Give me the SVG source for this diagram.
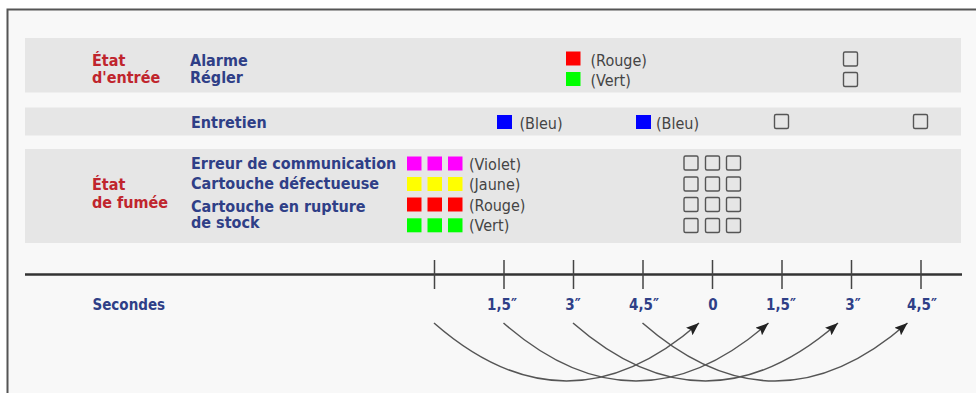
<svg xmlns="http://www.w3.org/2000/svg" width="976" height="393" viewBox="0 0 976 393">
<style>
.t{font-family:"DejaVu Sans Condensed","DejaVu Sans",sans-serif;font-stretch:condensed;font-size:16px}
.lab{font-weight:bold;fill:#2f3f87}
.cat{font-weight:bold;fill:#c0252d}
.col{fill:#444}
.ax{font-weight:bold;fill:#2f3f87;font-size:15px;text-anchor:middle}
.band{fill:#e6e6e6}
.box{fill:none;stroke:#555;stroke-width:1.4}
.tick{stroke:#444;stroke-width:1.5}
.arc{fill:none;stroke:#555;stroke-width:1.5}
</style>
<defs>
<marker id="ah" viewBox="0 0 13 10" refX="13" refY="5" markerWidth="13" markerHeight="10" markerUnits="userSpaceOnUse" orient="auto">
<path d="M0,0 L13,5 L0,10 L2.5,5 z" fill="#222"/>
</marker>
</defs>
<rect x="0" y="0" width="976" height="393" fill="#ffffff"/>
<rect x="7.5" y="9.5" width="970" height="385" fill="#f8f8f8"/>
<path d="M7.5,393 L7.5,9.5 L976,9.5" fill="none" stroke="#555" stroke-width="2"/>

<g id="etat-entree">
<rect class="band" x="25" y="38" width="936" height="54.5"/>
<text class="t cat" x="92" y="66">État</text>
<text class="t cat" x="92" y="82.7">d'entrée</text>
<text class="t lab" x="190" y="66">Alarme</text>
<text class="t lab" x="190" y="82.7">Régler</text>
<rect x="566" y="51.5" width="14.5" height="14" fill="#ff0000"/>
<text class="t col" x="590.5" y="65.5">(Rouge)</text>
<rect x="566" y="72" width="14.5" height="14" fill="#00ff00"/>
<text class="t col" x="590.5" y="86">(Vert)</text>
<rect class="box" x="843.5" y="52" width="14" height="14" rx="1.5"/>
<rect class="box" x="843.5" y="72.5" width="14" height="14" rx="1.5"/>
</g>

<g id="entretien">
<rect class="band" x="25" y="107.5" width="936" height="28"/>
<text class="t lab" x="191" y="128.3">Entretien</text>
<rect x="497" y="115" width="15" height="14" fill="#0000ff"/>
<text class="t col" x="519.5" y="128.5">(Bleu)</text>
<rect x="636" y="115" width="15" height="14" fill="#0000ff"/>
<text class="t col" x="656" y="128.5">(Bleu)</text>
<rect class="box" x="774.5" y="114.5" width="14" height="14" rx="1.5"/>
<rect class="box" x="913.5" y="114.5" width="14" height="14" rx="1.5"/>
</g>

<g id="etat-fumee">
<rect class="band" x="25" y="149" width="936" height="94"/>
<text class="t cat" x="92" y="190">État</text>
<text class="t cat" x="92" y="208.3">de fumée</text>
<text class="t lab" x="191" y="169.3">Erreur de communication</text>
<text class="t lab" x="191" y="188.5">Cartouche défectueuse</text>
<text class="t lab" x="191" y="211.7">Cartouche en rupture</text>
<text class="t lab" x="191" y="228.3">de stock</text>
<g fill="#ff00ff">
<rect x="407" y="156.5" width="14.5" height="14"/><rect x="427.5" y="156.5" width="14.5" height="14"/><rect x="448" y="156.5" width="14.5" height="14"/>
</g>
<g fill="#ffff00">
<rect x="407" y="177" width="14.5" height="14"/><rect x="427.5" y="177" width="14.5" height="14"/><rect x="448" y="177" width="14.5" height="14"/>
</g>
<g fill="#ff0000">
<rect x="407" y="197.5" width="14.5" height="14"/><rect x="427.5" y="197.5" width="14.5" height="14"/><rect x="448" y="197.5" width="14.5" height="14"/>
</g>
<g fill="#00ff00">
<rect x="407" y="218.3" width="14.5" height="14"/><rect x="427.5" y="218.3" width="14.5" height="14"/><rect x="448" y="218.3" width="14.5" height="14"/>
</g>
<text class="t col" x="469" y="169.5">(Violet)</text>
<text class="t col" x="469" y="190">(Jaune)</text>
<text class="t col" x="469" y="210.5">(Rouge)</text>
<text class="t col" x="469" y="231">(Vert)</text>
<g>
<rect class="box" x="684" y="156" width="14" height="14" rx="1.5"/><rect class="box" x="705.5" y="156" width="14" height="14" rx="1.5"/><rect class="box" x="726.5" y="156" width="14" height="14" rx="1.5"/>
<rect class="box" x="684" y="177" width="14" height="14" rx="1.5"/><rect class="box" x="705.5" y="177" width="14" height="14" rx="1.5"/><rect class="box" x="726.5" y="177" width="14" height="14" rx="1.5"/>
<rect class="box" x="684" y="197.5" width="14" height="14" rx="1.5"/><rect class="box" x="705.5" y="197.5" width="14" height="14" rx="1.5"/><rect class="box" x="726.5" y="197.5" width="14" height="14" rx="1.5"/>
<rect class="box" x="684" y="218.5" width="14" height="14" rx="1.5"/><rect class="box" x="705.5" y="218.5" width="14" height="14" rx="1.5"/><rect class="box" x="726.5" y="218.5" width="14" height="14" rx="1.5"/>
</g>
</g>

<g id="axe">
<line x1="25" y1="274.5" x2="962" y2="274.5" stroke="#333" stroke-width="2.5"/>
<line class="tick" x1="434.5" y1="260" x2="434.5" y2="289"/>
<line class="tick" x1="504" y1="260" x2="504" y2="289"/>
<line class="tick" x1="573.5" y1="260" x2="573.5" y2="289"/>
<line class="tick" x1="643" y1="260" x2="643" y2="289"/>
<line class="tick" x1="712.5" y1="260" x2="712.5" y2="289"/>
<line class="tick" x1="782" y1="260" x2="782" y2="289"/>
<line class="tick" x1="851.5" y1="260" x2="851.5" y2="289"/>
<line class="tick" x1="921" y1="260" x2="921" y2="289"/>
<text class="t lab" x="92.5" y="309.5" style="font-size:15px">Secondes</text>
<text class="t ax" x="502" y="309.5">1,5″</text>
<text class="t ax" x="573" y="309.5">3″</text>
<text class="t ax" x="644" y="309.5">4,5″</text>
<text class="t ax" x="713" y="309.5">0</text>
<text class="t ax" x="781" y="309.5">1,5″</text>
<text class="t ax" x="853" y="309.5">3″</text>
<text class="t ax" x="922" y="309.5">4,5″</text>
</g>

<g id="connectors">
<path class="arc" marker-end="url(#ah)" d="M434,323 Q566.5,439 699,323"/>
<path class="arc" marker-end="url(#ah)" d="M503.5,323 Q636,439 768.5,323"/>
<path class="arc" marker-end="url(#ah)" d="M573,323 Q705.5,439 838,323"/>
<path class="arc" marker-end="url(#ah)" d="M642.5,323 Q775,439 907.5,323"/>
</g>
</svg>
